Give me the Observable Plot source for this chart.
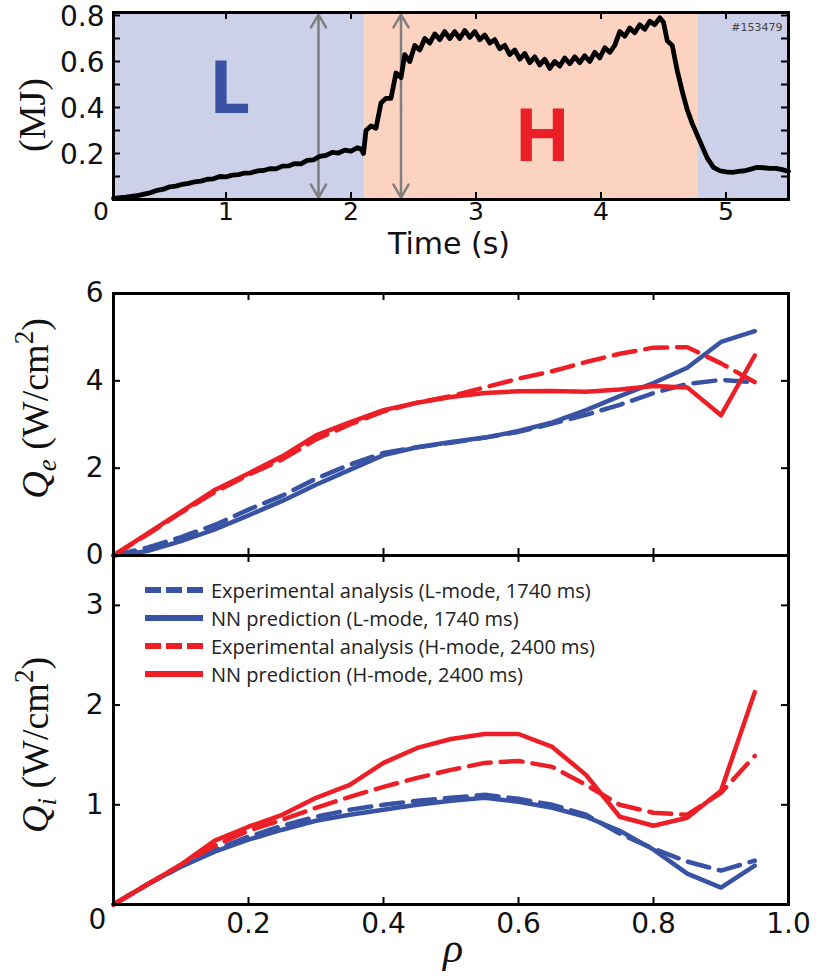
<!DOCTYPE html>
<html>
<head>
<meta charset="utf-8">
<script src="https://cdn.jsdelivr.net/npm/d3@7"></script>
<script src="https://cdn.jsdelivr.net/npm/@observablehq/plot@0.6"></script>
<style>
  body { margin: 0; background: #fff; }
  #wrap { position: relative; width: 821px; height: 978px; background: #fff; }
  #wrap svg { display: block; overflow: visible; }
  #legend { position: absolute; left: 143px; top: 576px; font-family: "Open Sans", sans-serif; font-size: 20px; color: #222; }
  #legend .row { display: flex; align-items: center; height: 28px; white-space: nowrap; }
  #legend svg { margin-right: 8px; }
</style>
</head>
<body>
<div id="wrap"><div id="legend"></div></div>
<script>
// ---------------- data ----------------
// stored energy trace, shot #153479: [time (s), energy (MJ)]
const energySamples = [
  [0.10,0.005],[0.20,0.010],[0.30,0.018],[0.40,0.030],[0.45,0.040],[0.50,0.045],[0.55,0.055],[0.60,0.058],
  [0.65,0.066],[0.70,0.070],[0.75,0.077],[0.80,0.080],[0.85,0.088],[0.90,0.090],[0.95,0.100],[1.00,0.098],
  [1.05,0.106],[1.10,0.108],[1.15,0.115],[1.20,0.116],[1.25,0.124],[1.30,0.126],[1.35,0.134],[1.40,0.133],
  [1.45,0.145],[1.50,0.146],[1.55,0.156],[1.60,0.155],[1.65,0.170],[1.70,0.172],[1.75,0.188],[1.80,0.192],
  [1.85,0.205],[1.90,0.202],[1.95,0.215],[2.00,0.210],[2.05,0.225],[2.08,0.220],[2.10,0.200],[2.12,0.300],
  [2.16,0.320],[2.20,0.310],[2.24,0.420],[2.28,0.440],[2.32,0.440],[2.36,0.550],[2.40,0.530],[2.43,0.630],
  [2.47,0.600],[2.51,0.670],[2.55,0.650],[2.59,0.700],[2.63,0.680],[2.67,0.720],[2.71,0.695],[2.75,0.730],
  [2.79,0.700],[2.83,0.730],[2.87,0.700],[2.91,0.735],[2.95,0.705],[2.99,0.730],[3.03,0.695],[3.07,0.715],
  [3.11,0.680],[3.15,0.695],[3.19,0.655],[3.23,0.670],[3.27,0.630],[3.31,0.650],[3.35,0.610],[3.39,0.635],
  [3.43,0.595],[3.47,0.620],[3.51,0.585],[3.55,0.610],[3.59,0.570],[3.63,0.600],[3.67,0.580],[3.71,0.615],
  [3.75,0.590],[3.79,0.620],[3.83,0.595],[3.87,0.625],[3.91,0.600],[3.95,0.640],[3.99,0.615],[4.03,0.660],
  [4.07,0.640],[4.11,0.670],[4.15,0.730],[4.19,0.710],[4.23,0.745],[4.27,0.725],[4.31,0.760],[4.35,0.740],
  [4.39,0.775],[4.43,0.760],[4.47,0.790],[4.50,0.770],[4.53,0.690],[4.57,0.670],[4.61,0.560],[4.65,0.470],
  [4.69,0.390],[4.73,0.330],[4.77,0.280],[4.81,0.230],[4.85,0.180],[4.90,0.140],[4.95,0.125],[5.00,0.120],
  [5.05,0.118],[5.10,0.122],[5.15,0.125],[5.20,0.132],[5.25,0.140],[5.30,0.138],[5.35,0.135],[5.40,0.135],
  [5.45,0.130],[5.50,0.122]
];
const modeName  = ["L", "H", "L"];
const modeStart = [0.10, 2.11, 4.78];
const modeEnd   = [2.11, 4.78, 5.50];
const modeLabel = ["L", "H"];
const modeLabelTime = [1.03, 3.53];
const modeLabelMJ   = [0.48, 0.27];
const sliceTimes = [1.74, 2.40];
const shotLabel = "#153479";
const timeTickLabels = [0, 1, 2, 3, 4, 5];
const timeTickMarks = [1, 2, 3, 4, 5];
const energyTickLabels = [0.2, 0.4, 0.6, 0.8];
const energyTickMarks = [0.1, 0.2, 0.3, 0.4, 0.5, 0.6, 0.7, 0.8];

const rho = [0,0.05,0.10,0.15,0.20,0.25,0.30,0.35,0.40,0.45,0.50,0.55,0.60,0.65,0.70,0.75,0.80,0.85,0.90,0.95];
const qeExpL = [0,0.18,0.42,0.70,1.05,1.37,1.76,2.08,2.35,2.48,2.58,2.70,2.83,3.02,3.22,3.45,3.72,3.93,4.02,3.97];
const qeNNL  = [0,0.10,0.33,0.60,0.92,1.25,1.62,1.96,2.30,2.48,2.60,2.70,2.85,3.05,3.33,3.65,3.95,4.30,4.89,5.14];
const qeExpH = [0,0.48,0.98,1.45,1.85,2.20,2.66,3.00,3.30,3.50,3.65,3.85,4.05,4.22,4.43,4.62,4.76,4.77,4.40,3.97];
const qeNNH  = [0,0.50,1.00,1.50,1.88,2.27,2.75,3.05,3.33,3.50,3.63,3.72,3.76,3.77,3.75,3.80,3.88,3.85,3.21,4.58];
const qiExpL = [0,0.20,0.38,0.55,0.68,0.79,0.88,0.95,1.00,1.04,1.07,1.10,1.06,1.00,0.90,0.71,0.56,0.43,0.34,0.44];
const qiNNL  = [0,0.20,0.38,0.53,0.65,0.75,0.84,0.90,0.95,1.00,1.04,1.07,1.03,0.97,0.88,0.74,0.55,0.31,0.17,0.39];
const qiExpH = [0,0.20,0.40,0.59,0.74,0.85,0.97,1.08,1.18,1.27,1.35,1.42,1.44,1.38,1.20,1.00,0.92,0.90,1.12,1.49];
const qiNNH  = [0,0.20,0.40,0.64,0.78,0.90,1.07,1.20,1.42,1.57,1.66,1.71,1.71,1.58,1.30,0.88,0.79,0.87,1.14,2.13];
const seriesNames = [
  "Experimental analysis (L-mode, 1740 ms)",
  "NN prediction (L-mode, 1740 ms)",
  "Experimental analysis (H-mode, 2400 ms)",
  "NN prediction (H-mode, 2400 ms)"
];
const rhoTickLabels = [0.2, 0.4, 0.6, 0.8, 1.0];
const rhoTickMarks = [0.2, 0.4, 0.6, 0.8];
const qeTickLabels = [0, 2, 4, 6];
const qeTickMarks = [2, 4];
const qiTickLabels = [1, 2, 3];
const qiTickMarks = [1, 2, 3];

// ---------------- styles ----------------
const BLUE = "#3953a4", RED = "#ec1f26";
const LAV = "#cdd0e9", SALMON = "#fbd3c0";
const seriesStroke = [BLUE, BLUE, RED, RED];
const seriesDash = ["22,10", null, "22,10", null];
const W = 821, ML = 113, MR = 33;
const PW = W - ML - MR;
const TICK = 7;
const SANS = "DejaVu Sans", SERIF = "Liberation Serif";

function ticksFor(xs, ys, plotH, ysRight) {
  return [
    Plot.tickX(xs, {x: d => d, insetTop: plotH - TICK, stroke: "black", strokeWidth: 2}),
    Plot.tickX(xs, {x: d => d, insetBottom: plotH - TICK, stroke: "black", strokeWidth: 2}),
    Plot.tickY(ys, {y: d => d, insetRight: PW - TICK, stroke: "black", strokeWidth: 2}),
    Plot.tickY(ysRight ?? ys, {y: d => d, insetLeft: PW - TICK, stroke: "black", strokeWidth: 2})
  ];
}
function seriesLines(arrays) {
  return arrays.map((ys, k) => Plot.line(rho.map((r, i) => ({rho: r, q: ys[i]})), {
    x: "rho", y: "q", stroke: seriesStroke[k], strokeWidth: 4.5,
    strokeDasharray: seriesDash[k] ?? undefined, strokeLinejoin: "round"
  }));
}

// ---------------- top panel ----------------
const topH = 270, topMT = 12, topMB = 71;
const modes = modeName.map((m, i) => ({mode: m, start: modeStart[i], end: modeEnd[i]}));
const yTopDomain = [0, 0.813];
const topPlot = Plot.plot({
  width: W, height: topH, marginTop: topMT, marginBottom: topMB, marginLeft: ML, marginRight: MR,
  x: {domain: [0.1, 5.5], axis: null},
  y: {domain: yTopDomain, axis: null},
  color: {type: "identity"},
  style: {background: "white", overflow: "visible", fontFamily: SANS, color: "#111"},
  marks: [
    Plot.rect(modes, {x1: "start", x2: "end", fill: d => d.mode === "L" ? LAV : SALMON}),
    Plot.text(modeLabel, {x: (d, i) => modeLabelTime[i], y: (d, i) => modeLabelMJ[i], text: d => d,
      fill: d => d === "L" ? BLUE : RED, fontSize: 74, fontWeight: "bold", fontFamily: "Open Sans"}),
    Plot.arrow(sliceTimes, {x1: d => d, x2: d => d, y1: (yTopDomain[0] + yTopDomain[1]) / 2, y2: yTopDomain[1],
      stroke: "#7f7f7f", strokeWidth: 2.5, headLength: 9, insetEnd: 2}),
    Plot.arrow(sliceTimes, {x1: d => d, x2: d => d, y1: (yTopDomain[0] + yTopDomain[1]) / 2, y2: yTopDomain[0],
      stroke: "#7f7f7f", strokeWidth: 2.5, headLength: 9, insetEnd: 2}),
    Plot.line(energySamples, {x: d => d[0], y: d => d[1], stroke: "black", strokeWidth: 4.8, strokeLinejoin: "round", strokeLinecap: "round"}),
    Plot.text([shotLabel], {frameAnchor: "top-right", dx: -6, dy: 11, text: d => d, textAnchor: "end", fontSize: 11, fill: "#444"}),
    ...ticksFor(timeTickMarks, energyTickMarks, topH - topMT - topMB),
    Plot.frame({stroke: "black", strokeWidth: 3}),
    Plot.text(timeTickLabels, {x: d => d, text: d => String(d), frameAnchor: "bottom", dy: 20, fontSize: 25, ariaLabel: "ticklabel-top"}),
    Plot.text(energyTickLabels, {y: d => d, text: d => d.toFixed(1), frameAnchor: "left", dx: -9, dy: 2, textAnchor: "end", fontSize: 28, ariaLabel: "ticklabel-top"}),
    Plot.text(["Time (s)"], {frameAnchor: "bottom", dx: -2, dy: 54, text: d => d, fontSize: 30}),
    Plot.text(["(MJ)"], {frameAnchor: "left", dx: -81, dy: 9, rotate: -90, textAnchor: "middle", text: d => d, fontSize: 38, fontFamily: SERIF})
  ]
});

// ---------------- middle panel (Qe) ----------------
const midH = 285, midMT = 23, midMB = 0;
const midPlot = Plot.plot({
  width: W, height: midH, marginTop: midMT, marginBottom: midMB, marginLeft: ML, marginRight: MR,
  x: {domain: [0, 1], axis: null},
  y: {domain: [0, 6], axis: null},
  style: {background: "transparent", overflow: "visible", fontFamily: SANS, color: "#111"},
  marks: [
    ...seriesLines([qeExpL, qeNNL, qeExpH, qeNNH]),
    ...ticksFor(rhoTickMarks, qeTickMarks, midH - midMT - midMB),
    Plot.frame({stroke: "black", strokeWidth: 3}),
    Plot.text(qeTickLabels, {y: d => d, text: d => String(d), frameAnchor: "left", dx: -10, textAnchor: "end", fontSize: 28, ariaLabel: "ticklabel-low"}),
    Plot.text(["Qe (W/cm2)"], {frameAnchor: "left", dx: -78, dy: -16, rotate: -90, textAnchor: "middle", text: d => d, fontSize: 38, fontFamily: SERIF})
  ]
});

// ---------------- bottom panel (Qi) ----------------
const botH = 423, botMT = 0, botMB = 74;
const botPlot = Plot.plot({
  width: W, height: botH, marginTop: botMT, marginBottom: botMB, marginLeft: ML, marginRight: MR,
  x: {domain: [0, 1], axis: null},
  y: {domain: [0, 3.5], axis: null},
  style: {background: "transparent", overflow: "visible", fontFamily: SANS, color: "#111"},
  marks: [
    ...seriesLines([qiExpL, qiNNL, qiExpH, qiNNH]),
    ...ticksFor(rhoTickMarks, qiTickMarks, botH - botMT - botMB),
    Plot.frame({stroke: "black", strokeWidth: 3}),
    Plot.text(rhoTickLabels, {x: d => d, text: d => d.toFixed(1), frameAnchor: "bottom", dy: 28, fontSize: 28, ariaLabel: "ticklabel-low"}),
    Plot.text([0], {x: d => d, text: d => String(d), frameAnchor: "bottom", dx: -16, dy: 24, fontSize: 28, ariaLabel: "ticklabel-low"}),
    Plot.text(qiTickLabels, {y: d => d, text: d => String(d), frameAnchor: "left", dx: -10, textAnchor: "end", fontSize: 28, ariaLabel: "ticklabel-low"}),
    Plot.text(["Qi (W/cm2)"], {frameAnchor: "left", dx: -78, dy: 15, rotate: -90, textAnchor: "middle", text: d => d, fontSize: 38, fontFamily: SERIF}),
    Plot.text(["ρ"], {frameAnchor: "bottom", dx: 2, dy: 57, text: d => d, fontSize: 42, fontStyle: "italic", fontFamily: SERIF})
  ]
});

const wrap = document.getElementById("wrap");
const legendDiv = document.getElementById("legend");
wrap.insertBefore(botPlot, legendDiv);
wrap.insertBefore(midPlot, botPlot);
wrap.insertBefore(topPlot, midPlot);

// ---------------- legend ----------------
seriesNames.forEach((name, k) => {
  const row = d3.select(legendDiv).append("div").attr("class", "row");
  const sw = row.append("svg").attr("width", 60).attr("height", 12);
  sw.append("line").attr("x1", 2).attr("x2", 60).attr("y1", 6).attr("y2", 6)
    .attr("stroke", seriesStroke[k]).attr("stroke-width", 6)
    .attr("stroke-dasharray", seriesDash[k] ? "16,5" : null);
  row.append("span").text(name);
});

// ---------------- rich axis labels ----------------
function rich(svg, plain, parts) {
  d3.select(svg).selectAll("text").filter(function () { return this.textContent === plain; }).each(function () {
    const t = d3.select(this);
    t.text(null);
    for (const p of parts) {
      const s = t.append("tspan").text(p.s);
      if (p.italic) s.attr("font-style", "italic");
      if (p.size) s.attr("font-size", p.size);
      if (p.dy) s.attr("dy", p.dy);
    }
  });
}
const labelParts = sub => [
  {s: "Q", italic: true},
  {s: sub, italic: true, size: 27, dy: 8},
  {s: " (W/cm", dy: -8},
  {s: "2", size: 27, dy: -15},
  {s: ")", dy: 15}
];
rich(midPlot, "Qe (W/cm2)", labelParts("e"));
rich(botPlot, "Qi (W/cm2)", labelParts("i"));

// widen tick labels like the reference's broad digits
function stretch(svg, label, f) {
  d3.select(svg).selectAll(`g[aria-label="${label}"] text`).each(function () {
    const L = this.getComputedTextLength();
    this.setAttribute("textLength", (L * f).toFixed(1));
    this.setAttribute("lengthAdjust", "spacingAndGlyphs");
  });
}
stretch(topPlot, "ticklabel-top", 1.12);
stretch(midPlot, "ticklabel-low", 1.2);
stretch(botPlot, "ticklabel-low", 1.2);
</script>
</body>
</html>
